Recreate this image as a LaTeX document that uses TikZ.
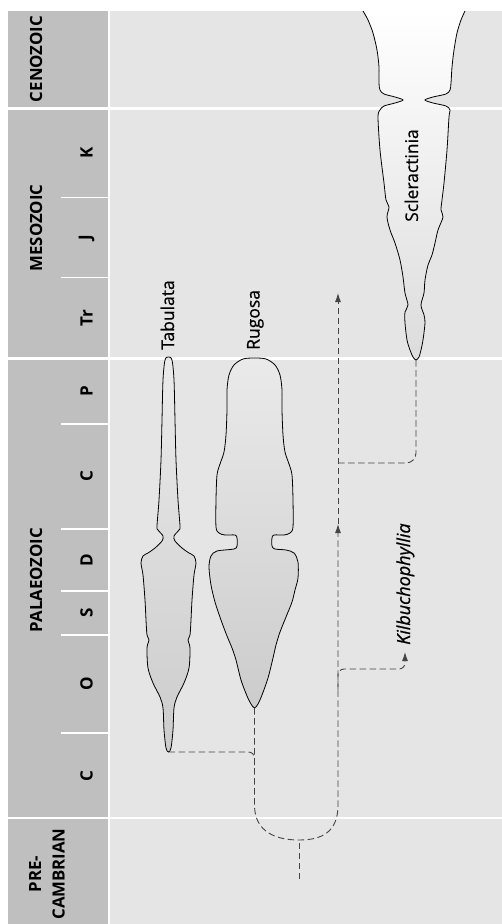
\documentclass[tikz,border=0pt]{standalone}
\usepackage{fontspec}
\setmainfont{Open Sans}
\newfontfamily\taxonfont{Open Sans}[FakeBold=0.7]
\usetikzlibrary{arrows.meta}
\definecolor{sidebar}{HTML}{BFBFBF}
\definecolor{panel}{HTML}{E5E5E5}
\definecolor{lineagecol}{HTML}{454545}
\definecolor{bodytop}{HTML}{EAEAEA}
\definecolor{bodybot}{HTML}{CCCCCC}
\definecolor{scltop}{HTML}{FFFFFF}
\definecolor{sclbot}{HTML}{DCDCDC}
\begin{document}
\begin{tikzpicture}[x=1pt,y=-1pt,
  lineage/.style={draw=lineagecol, line width=0.9pt, dash pattern=on 6.5pt off 3.5pt},
  tip/.style={-{Latex[length=9pt,width=6pt]}},
  bodyline/.style={draw=black, line width=0.8pt},
  taxon/.style={rotate=90, anchor=base west, inner sep=0pt, font=\taxonfont\fontsize{17.5}{19}\selectfont},
  eralabel/.style={rotate=90, inner sep=0pt, align=center, font=\fontsize{16.8}{23.5}\selectfont\bfseries},
  periodlabel/.style={rotate=90, inner sep=0pt, font=\fontsize{17}{19}\selectfont\bfseries},
]
\useasboundingbox (0,0) rectangle (502,924);
\fill[white] (0,0) rectangle (502,924);

% time-scale column and plotting panel
\fill[sidebar] (8,11) rectangle (107.5,924);
\fill[panel] (110,11) rectangle (502,924);
\foreach \y in {108.7,358.3,818} \draw[white, line width=2.6pt] (8,\y) -- (502,\y);
\foreach \y in {197.7,277.7,424,529,591,635,733} \draw[white, line width=1.3pt] (61,\y) -- (107.5,\y);

% eras
\node[eralabel] (cenozoic) at (36,59) {CENOZOIC};
\node[eralabel] (mesozoic) at (36,228) {MESOZOIC};
\node[eralabel] (palaeozoic) at (36,580) {PALAEOZOIC};
\node[eralabel] (precambrian) at (47,874) {PRE-\\CAMBRIAN};

% periods
\node[periodlabel] (perK) at (86.5,153) {K};
\node[periodlabel] (perJ) at (86.5,238) {J};
\node[periodlabel] (perTr) at (86.5,318) {Tr};
\node[periodlabel] (perP) at (86.5,391) {P};
\node[periodlabel] (perC) at (86.5,476) {C};
\node[periodlabel] (perD) at (86.5,560) {D};
\node[periodlabel] (perS) at (86.5,613) {S};
\node[periodlabel] (perO) at (86.5,684) {O};
\node[periodlabel] (perCm) at (86.5,776) {C};

% Scleractinia (open at the top edge)
\draw[bodyline, top color=scltop, bottom color=sclbot] plot[smooth, tension=0.5] coordinates {
 (363,11) (368,20) (373,33) (377,50) (379,67) (379,83) (380,90) (384,94) (395,97) (403,100)
 (395,103) (384,106) (380,110) (378,117) (380,150) (384,183) (386,200) (389,207) (387,217)
 (390,230) (395,243) (400,260) (403,277) (405,293) (408,305) (405,312) (405,323) (407,340)
 (410,350) (413,357) (416,360) (419,357) (421,350) (423,340) (425,323) (424,315) (421,305)
 (424,293) (425,280) (428,265) (432,255) (435,243) (438,230) (443,217) (441,210) (442,200)
 (444,183) (447,150) (449,117) (450,110) (446,106) (433,103) (425,100) (433,97) (446,94)
 (450,90) (451,83) (452,67) (454,50) (457,33) (461,20) (465,11)};

% Tabulata
\draw[bodyline, top color=bodytop, bottom color=bodybot] plot[smooth cycle, tension=0.5] coordinates {
 (168.5,357) (172,360) (174,380) (175,420) (176,460) (178,500) (180,526) (179,530) (174,536)
 (175,541) (182,548) (189,553) (194,556) (196,563) (194,575) (192,600) (191,620) (190,635)
 (188,640) (190,648) (189,668) (184,683) (177,697) (174,708) (173,730) (171,748) (168.5,752)
 (166,748) (164,730) (163,708) (160,697) (153,683) (148,668) (147,648) (149,640) (147,635)
 (146,620) (145,600) (143,575) (141,563) (143,556) (148,553) (155,548) (162,541) (163,536)
 (158,530) (157,526) (159,500) (161,460) (162,420) (163,380) (165,360)};

% Rugosa
\draw[bodyline, top color=bodytop, bottom color=bodybot] plot[smooth cycle, tension=0.5] coordinates {
 (254.5,358) (266,359) (275,365) (280,375) (282,390) (282,410) (283,435) (285,452) (289,464)
 (292,475) (293,500) (293,527) (290,533) (284,535) (274,535) (272,538) (272,546) (275,549)
 (286,550) (294,553) (298,562) (298,578) (295,590) (292,602) (286,617) (280,632) (276,645)
 (273,658) (268,678) (262,695) (258,704) (254.5,708) (251,704) (247,696) (241,680) (236,660)
 (232,648) (227,636) (221,620) (215,602) (211,585) (209,567) (211,556) (217,551) (234,549)
 (237,546) (237,538) (235,535) (225,535) (219,533) (216,527) (216,500) (217,475) (220,464)
 (224,452) (226,435) (227,410) (227,390) (229,375) (234,365) (243,359)};

% lineage connectors
\coordinate (tabBase) at (168.5,752);
\coordinate (rugBase) at (254.5,708);
\coordinate (sclBase) at (416,360);
\coordinate (root) at (299,879);
\coordinate (fork) at (299,840);
\coordinate (leftBend) at (254.5,805);
\coordinate (rightBend) at (338,805);
\coordinate (midTip) at (338,524);
\coordinate (stemTop) at (338,293);
\coordinate (tabJoin) at (254.5,768);
\coordinate (sclJoin) at (338,463);
\coordinate (kilJoin) at (338,690);
\coordinate (kilTurn) at (405,669);
\coordinate (kilTip) at (405,652);

\draw[lineage] (root) -- (fork);
\draw[lineage, tip] (rugBase) -- (leftBend) .. controls (254.5,832) and (276,840) .. (fork)
  .. controls (322,840) and (338,832) .. (rightBend) -- (midTip);
\draw[lineage, tip] (midTip) -- (stemTop);
\draw[lineage, rounded corners=6pt] (tabBase) -| (tabJoin);
\draw[lineage, rounded corners=10pt] (sclJoin) -| (sclBase);
\draw[lineage, tip, rounded corners=6pt] (kilJoin) |- (kilTurn) -- (kilTip);

% taxon names
\node[taxon] (tabLabel) at (174,350) {Tabulata};
\node[taxon] (rugLabel) at (259.5,350) {Rugosa};
\node[taxon] (sclLabel) at (418,222) {Scleractinia};
\node[taxon, font=\taxonfont\fontsize{18}{19}\selectfont\itshape] (kilLabel) at (410,645) {Kilbuchophyllia};
\end{tikzpicture}
\end{document}
